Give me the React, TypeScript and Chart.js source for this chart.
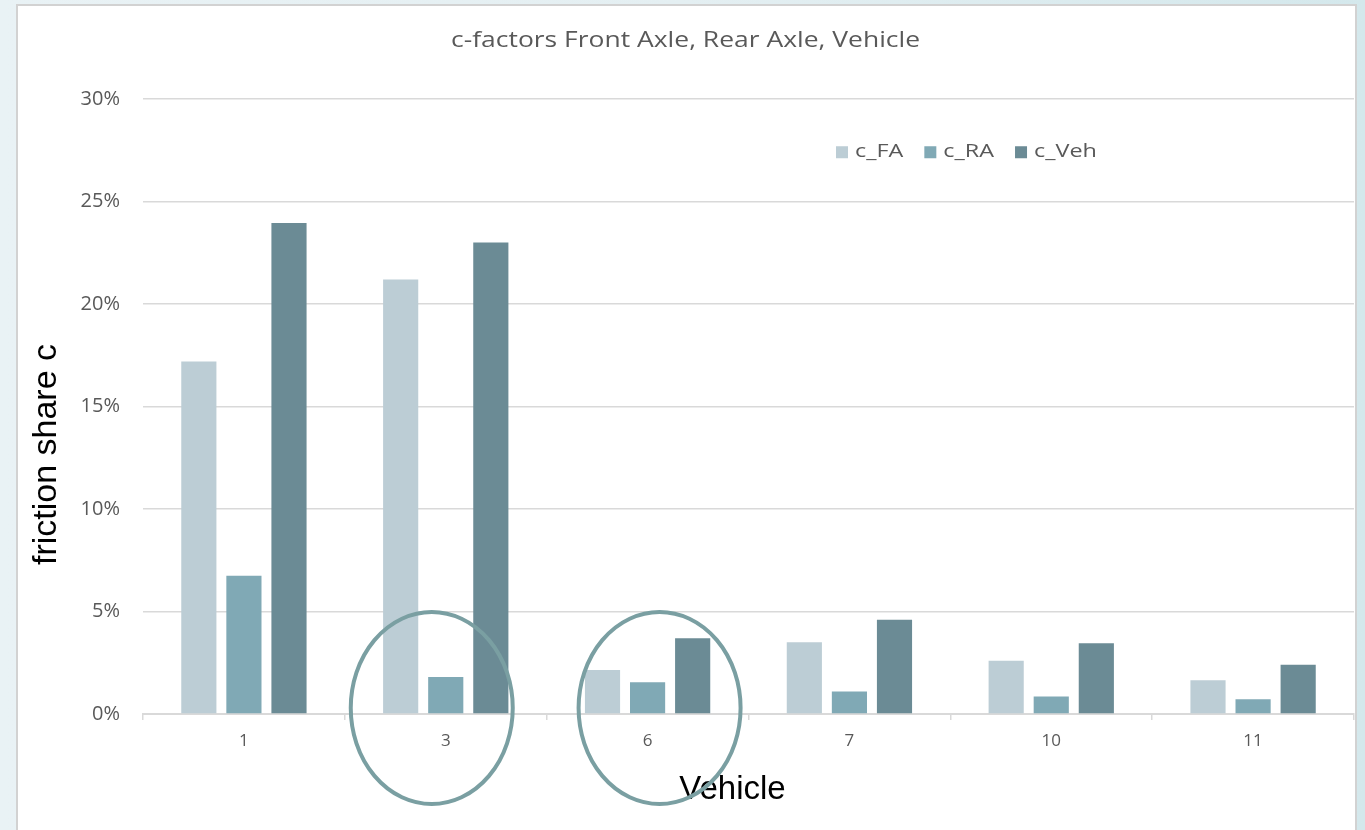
import React, { useEffect, useRef } from "react";
import { Chart, registerables } from "chart.js";

Chart.register(...registerables);

// ---- data ----
const categories = ["1", "3", "6", "7", "10", "11"];
const cFA = [17.2, 21.2, 2.15, 3.5, 2.6, 1.65];
const cRA = [6.75, 1.8, 1.55, 1.1, 0.85, 0.72];
const cVeh = [23.95, 23.0, 3.7, 4.6, 3.45, 2.4];
const seriesNames = ["c_FA", "c_RA", "c_Veh"];
const yTickValues = [0, 5, 10, 15, 20, 25, 30];
const highlightedCategories = ["3", "6"];
const chartTitle = "c-factors Front Axle, Rear Axle, Vehicle";
const xTitle = "Vehicle";
const yTitle = "friction share c";

const COLORS = ["#bccdd5", "#80a9b5", "#6b8b95"];
const GRID = "#d9d9d9";
const TEXT = "#595959";
const FONT = "'Open Sans', 'Liberation Sans', sans-serif";

function stretchedText(ctx: any, text: string, x: number, y: number, sx: number, align: string) {
  ctx.save();
  ctx.translate(x, y);
  ctx.scale(sx, 1);
  ctx.textAlign = align;
  ctx.fillText(text, 0, 0);
  ctx.restore();
}

const overlayPlugin = {
  id: "overlay",
  afterDraw(chart: any) {
    const { ctx, chartArea, scales } = chart;
    const xs = scales.x;
    const ys = scales.y;
    ctx.save();
    ctx.textBaseline = "middle";

    // chart title
    ctx.fillStyle = TEXT;
    ctx.font = `21px ${FONT}`;
    stretchedText(ctx, chartTitle, (chartArea.left + chartArea.right) / 2 - 63, chartArea.top - 58, 1.26, "center");

    // axis titles
    ctx.fillStyle = "#000";
    ctx.font = "33px 'Liberation Sans', Arial, sans-serif";
    ctx.textAlign = "center";
    ctx.fillText(xTitle, (chartArea.left + chartArea.right) / 2 - 16, chartArea.bottom + 76);
    ctx.save();
    ctx.translate(47, (chartArea.top + chartArea.bottom) / 2 + 48);
    ctx.rotate(-Math.PI / 2);
    ctx.font = "34px 'Liberation Sans', Arial, sans-serif";
    ctx.fillText(yTitle, 0, 0);
    ctx.restore();

    // legend
    const sx = 1.3;
    ctx.font = `18px ${FONT}`;
    let lx = chartArea.right - 518;
    const ly = ys.getPixelForValue(27.5) + 2;
    chart.data.datasets.forEach((ds: any) => {
      ctx.fillStyle = ds.backgroundColor;
      ctx.fillRect(lx, ly - 6, 12, 12);
      ctx.fillStyle = TEXT;
      stretchedText(ctx, ds.label, lx + 19, ly, sx, "left");
      lx += 19 + ctx.measureText(ds.label).width * sx + 21;
    });

    // highlight ellipses
    const offsets: Record<string, number> = { "3": -14, "6": 12 };
    ctx.strokeStyle = "#7a9fa2";
    ctx.lineWidth = 4;
    highlightedCategories.forEach((c) => {
      const i = categories.indexOf(c);
      const cx = xs.getPixelForValue(i) + (offsets[c] || 0);
      const cy = ys.getPixelForValue(0) - 6;
      ctx.beginPath();
      ctx.ellipse(cx, cy, 81, 96, 0, 0, Math.PI * 2);
      ctx.stroke();
    });
    ctx.restore();
  },
};

export default function App() {
  const ref = useRef<HTMLCanvasElement>(null);
  useEffect(() => {
    if (!ref.current) return;
    const chart = new Chart(ref.current, {
      type: "bar",
      data: {
        labels: categories,
        datasets: [cFA, cRA, cVeh].map((d, i) => ({
          label: seriesNames[i],
          data: d,
          backgroundColor: COLORS[i],
          borderWidth: 0,
          categoryPercentage: 0.67,
          barPercentage: 0.78,
        })),
      },
      options: {
        animation: false,
        responsive: false,
        maintainAspectRatio: false,
        layout: { padding: { left: 0, right: 11, top: 99, bottom: 0 } },
        plugins: {
          legend: { display: false },
          tooltip: { enabled: false },
          title: { display: false },
        },
        scales: {
          x: {
            grid: {
              drawOnChartArea: false,
              drawTicks: true,
              tickLength: 6,
              color: GRID,
              lineWidth: 1.5,
            },
            border: { display: true, color: GRID, width: 2 },
            ticks: { color: TEXT, font: { family: FONT, size: 17 }, padding: 11 },
            afterFit: (s: any) => {
              s.height = 116;
            },
          },
          y: {
            min: 0,
            max: 30,
            afterBuildTicks: (s: any) => {
              s.ticks = yTickValues.map((v) => ({ value: v }));
            },
            grid: { color: GRID, lineWidth: 1.5, drawTicks: false },
            border: { display: false },
            ticks: {
              color: TEXT,
              font: { family: FONT, size: 20 },
              padding: 23,
              callback: (v: any) => `${v}%`,
            },
            afterFit: (s: any) => {
              s.width = 143;
            },
          },
        },
      },
      plugins: [overlayPlugin],
    });
    return () => chart.destroy();
  }, []);

  return (
    <div
      style={{
        position: "fixed",
        left: 0,
        top: 0,
        width: 1365,
        height: 830,
        overflow: "hidden",
        background: "linear-gradient(90deg, #e9f2f5 0%, #e4eff2 50%, #d4e8ec 100%)",
      }}
    >
      <div
        style={{
          position: "absolute",
          left: 16,
          top: 4,
          width: 1337,
          height: 840,
          background: "#fff",
          border: "2px solid #d2d2d2",
        }}
      />
      <canvas
        ref={ref}
        width={1365}
        height={830}
        style={{ position: "absolute", left: 0, top: 0, width: 1365, height: 830 }}
      />
    </div>
  );
}
